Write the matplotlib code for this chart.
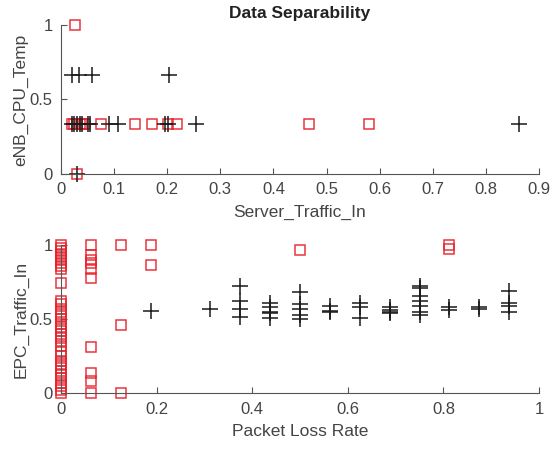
import matplotlib
matplotlib.use("Agg")
import matplotlib.pyplot as plt

# ---- top panel: Server_Traffic_In vs eNB_CPU_Temp ----
top_red_x = [0.02, 0.025, 0.03, 0.035, 0.04, 0.045, 0.075, 0.14, 0.172, 0.202, 0.219,
             0.467, 0.579, 0.027, 0.03]
top_red_y = [0.333, 0.333, 0.333, 0.333, 0.333, 0.333, 0.333, 0.333, 0.333, 0.333, 0.333,
             0.333, 0.333, 1.0, 0.0]
top_blk_x = [0.02, 0.025, 0.03, 0.035, 0.04, 0.05, 0.055, 0.09, 0.108, 0.196, 0.202, 0.254,
             0.863, 0.021, 0.034, 0.059, 0.204, 0.03]
top_blk_y = [0.333] * 13 + [0.667, 0.667, 0.667, 0.667, 0.0]

# ---- bottom panel: Packet Loss Rate vs EPC_Traffic_In ----
red_col0 = [1.0, 0.98, 0.96, 0.94, 0.92, 0.90, 0.88, 0.86, 0.84, 0.745, 0.62, 0.60, 0.57,
            0.55, 0.52, 0.50, 0.47, 0.45, 0.42, 0.40, 0.37, 0.35, 0.32, 0.28, 0.25, 0.22,
            0.20, 0.17, 0.15, 0.12, 0.10, 0.07, 0.05, 0.02, 0.0]
bot_red_x = [0.0] * len(red_col0) + [0.0625] * 10 + [0.125] * 3 + [0.1875] * 2 + [0.5] + [0.8125] * 2
bot_red_y = red_col0 + [1.0, 0.93, 0.90, 0.876, 0.836, 0.775, 0.31, 0.137, 0.083, 0.0] \
    + [1.0, 0.46, 0.0] + [1.0, 0.865] + [0.966] + [1.0, 0.97]

blk_cols = {
    0.1875: [0.554],
    0.3125: [0.567],
    0.375: [0.72, 0.62, 0.567, 0.515],
    0.4375: [0.61, 0.58, 0.55, 0.54, 0.51],
    0.5: [0.68, 0.60, 0.565, 0.53, 0.50],
    0.5625: [0.59, 0.555, 0.55],
    0.625: [0.61, 0.58, 0.51],
    0.6875: [0.58, 0.56, 0.55, 0.54],
    0.75: [0.72, 0.71, 0.655, 0.62, 0.59, 0.55, 0.53],
    0.8125: [0.58, 0.56],
    0.875: [0.58, 0.565],
    0.9375: [0.69, 0.61, 0.59, 0.55],
}
bot_blk_x = [x for x, ys in blk_cols.items() for _ in ys]
bot_blk_y = [y for ys in blk_cols.values() for y in ys]

plt.rcParams['font.family'] = ['Liberation Sans', 'DejaVu Sans']
txt = '#444444'

fig = plt.figure(figsize=(5.5, 4.51), dpi=100)
ax1 = fig.add_axes([0.111, 0.614, 0.869, 0.331])
ax2 = fig.add_axes([0.111, 0.128, 0.869, 0.329])


def style(ax):
    for s in ['top', 'right']:
        ax.spines[s].set_visible(False)
    for s in ['left', 'bottom']:
        ax.spines[s].set_color('#555555')
        ax.spines[s].set_linewidth(0.8)
    ax.tick_params(direction='in', length=4, pad=6, colors='#555555', labelcolor=txt, labelsize=12)


sq = dict(marker='s', ms=7, mfc='none', mec='#e8202a', mew=1.1, ls='none', alpha=0.9)
pl = dict(marker='+', ms=11, mec='#1a1a1a', mew=1.1, ls='none')

ax1.plot(top_red_x, top_red_y, **sq)
ax1.plot(top_blk_x, top_blk_y, **pl)
ax1.set_xlim(0, 0.9)
ax1.set_ylim(0, 1)
ax1.set_xticks([0, 0.1, 0.2, 0.3, 0.4, 0.5, 0.6, 0.7, 0.8, 0.9])
ax1.set_xticklabels(['0', '0.1', '0.2', '0.3', '0.4', '0.5', '0.6', '0.7', '0.8', '0.9'])
ax1.set_yticks([0, 0.5, 1])
ax1.set_yticklabels(['0', '0.5', '1'])
ax1.set_xlabel('Server_Traffic_In', fontsize=12.5, color=txt, labelpad=5)
ax1.set_ylabel('eNB_CPU_Temp', fontsize=12.5, color=txt, labelpad=1)
ax1.set_title('Data Separability', fontsize=12.5, fontweight='bold', color='#222222', pad=5)
style(ax1)

ax2.plot(bot_red_x, bot_red_y, **sq)
ax2.plot(bot_blk_x, bot_blk_y, **pl)
ax2.set_xlim(0, 1)
ax2.set_ylim(0, 1)
ax2.set_xticks([0, 0.2, 0.4, 0.6, 0.8, 1])
ax2.set_xticklabels(['0', '0.2', '0.4', '0.6', '0.8', '1'])
ax2.set_yticks([0, 0.5, 1])
ax2.set_yticklabels(['0', '0.5', '1'])
ax2.set_xlabel('Packet Loss Rate', fontsize=12.5, color=txt, labelpad=5)
ax2.set_ylabel('EPC_Traffic_In', fontsize=12.5, color=txt, labelpad=1)
style(ax2)

for ax in (ax1, ax2):
    for l in ax.lines:
        l.set_clip_on(False)

fig.savefig('out.png', dpi=100)
